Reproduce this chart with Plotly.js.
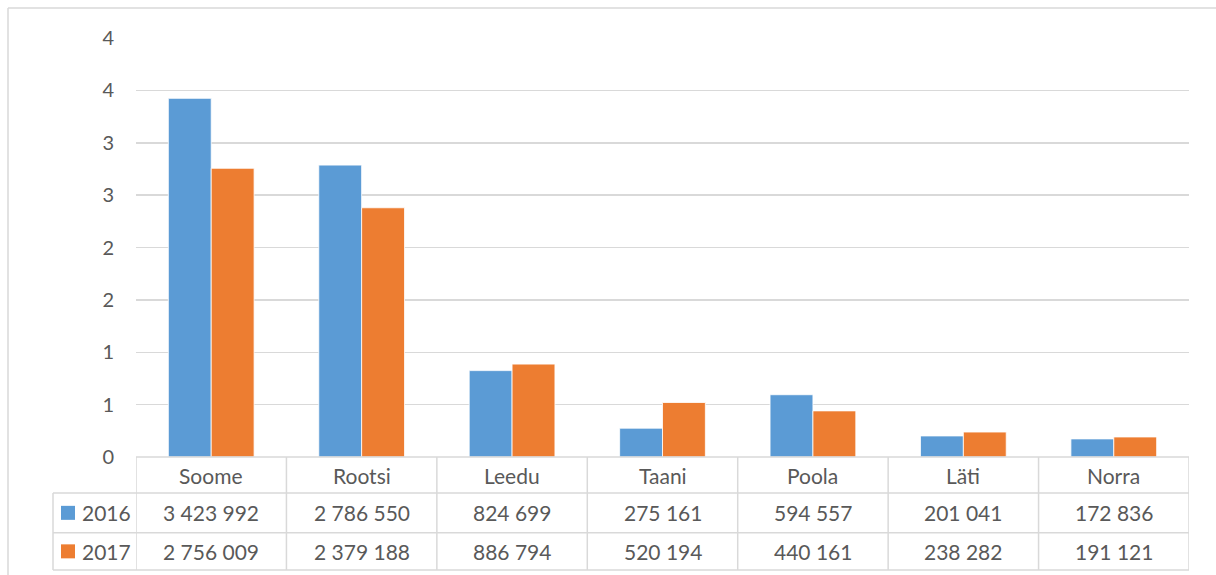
<!DOCTYPE html>
<html>
<head>
<meta charset="utf-8">
<script src="https://cdn.plot.ly/plotly-3.0.1.min.js"></script>
<style>html,body{margin:0;padding:0;background:#fff;}#chart{width:1216px;height:575px;}</style>
</head>
<body>
<div id="chart"></div>
<script>
var categories = ["Soome", "Rootsi", "Leedu", "Taani", "Poola", "Läti", "Norra"];
var seriesNames = ["2016", "2017"];
var values2016 = [3423992, 2786550, 824699, 275161, 594557, 201041, 172836];
var values2017 = [2756009, 2379188, 886794, 520194, 440161, 238282, 191121];
var yTickVals = [0, 0.5, 1, 1.5, 2, 2.5, 3, 3.5, 4];
var yTickText = ["0", "1", "1", "2", "2", "3", "3", "4", "4"];

var colors = ["#5B9BD5", "#ED7D31"];
var textColor = "#595959";
var lineColor = "#D9D9D9";
var W = 1216, H = 575;
var L = 136, R = 1189, T = 38, B = 457;
function px(x) { return (x - L) / (R - L); }
function py(y) { return (B - y) / (B - T); }
function fmt(n) { return String(n).replace(/\B(?=(\d{3})+(?!\d))/g, " "); }

var allSeries = [values2016, values2017];
var traces = allSeries.map(function (vals, i) {
  return {
    type: "bar",
    name: seriesNames[i],
    x: categories,
    y: vals.map(function (v) { return v / 1e6; }),
    marker: { color: colors[i], line: { color: "#ffffff", width: 0.8 } },
    hoverinfo: "skip"
  };
});

var rowTop = [457, 493, 532.7, 570];
var shapes = [];
var annotations = [];
shapes.push({ type: "line", xref: "paper", yref: "paper", x0: 0, x1: 1, y0: py(rowTop[0]), y1: py(rowTop[0]), line: { color: lineColor, width: 1.5 } });
for (var r = 1; r < rowTop.length; r++) {
  shapes.push({ type: "line", xref: "paper", yref: "paper", x0: px(53), x1: 1, y0: py(rowTop[r]), y1: py(rowTop[r]), line: { color: lineColor, width: 1.5 } });
}
for (var c = 0; c <= categories.length; c++) {
  shapes.push({ type: "line", xref: "x", yref: "paper", x0: c - 0.5, x1: c - 0.5, y0: py(rowTop[0]), y1: py(rowTop[3]), line: { color: lineColor, width: 1.5 } });
}
shapes.push({ type: "line", xref: "paper", yref: "paper", x0: px(53), x1: px(53), y0: py(rowTop[1]), y1: py(rowTop[3]), line: { color: lineColor, width: 1.5 } });
shapes.push({ type: "line", xref: "paper", yref: "paper", x0: px(8), x1: px(1220), y0: py(8), y1: py(8), line: { color: lineColor, width: 1.5 } });
shapes.push({ type: "line", xref: "paper", yref: "paper", x0: px(8), x1: px(8), y0: py(8), y1: py(580), line: { color: lineColor, width: 1.5 } });

allSeries.forEach(function (vals, i) {
  var yc = (rowTop[i + 1] + rowTop[i + 2]) / 2;
  shapes.push({ type: "rect", xref: "paper", yref: "paper", x0: px(61), x1: px(75), y0: py(yc - 7), y1: py(yc + 7), fillcolor: colors[i], line: { width: 0 } });
  annotations.push({ xref: "paper", yref: "paper", x: px(80), y: py(yc), xanchor: "left", yanchor: "middle", text: seriesNames[i], showarrow: false, font: { family: "Lato", size: 21, color: textColor } });
  vals.forEach(function (v, k) {
    annotations.push({ xref: "x", yref: "paper", x: categories[k], y: py(yc), xanchor: "center", yanchor: "middle", text: fmt(v), showarrow: false, font: { family: "Lato", size: 21, color: textColor } });
  });
});
categories.forEach(function (cat) {
  annotations.push({ xref: "x", yref: "paper", x: cat, y: py((rowTop[0] + rowTop[1]) / 2), xanchor: "center", yanchor: "middle", text: cat, showarrow: false, font: { family: "Lato", size: 21, color: textColor } });
});

var layout = {
  width: W, height: H, autosize: false,
  margin: { l: L, r: W - R, t: T, b: H - B, pad: 0 },
  paper_bgcolor: "#ffffff", plot_bgcolor: "#ffffff",
  showlegend: false,
  barmode: "group", bargap: 0.43, bargroupgap: 0,
  font: { family: "Lato", color: textColor },
  xaxis: { type: "category", range: [-0.5, 6.5], showticklabels: false, showgrid: false, zeroline: false, showline: false, ticks: "", fixedrange: true },
  yaxis: { range: [0, 4], tickmode: "array", tickvals: yTickVals, ticktext: yTickText, showgrid: true, gridcolor: lineColor, gridwidth: 1.5, zeroline: false, showline: false, ticks: "", ticklabelstandoff: 21, tickfont: { family: "Lato", size: 20, color: textColor }, fixedrange: true },
  shapes: shapes,
  annotations: annotations
};
Plotly.newPlot("chart", traces, layout, { displayModeBar: false, staticPlot: true });
</script>
</body>
</html>
